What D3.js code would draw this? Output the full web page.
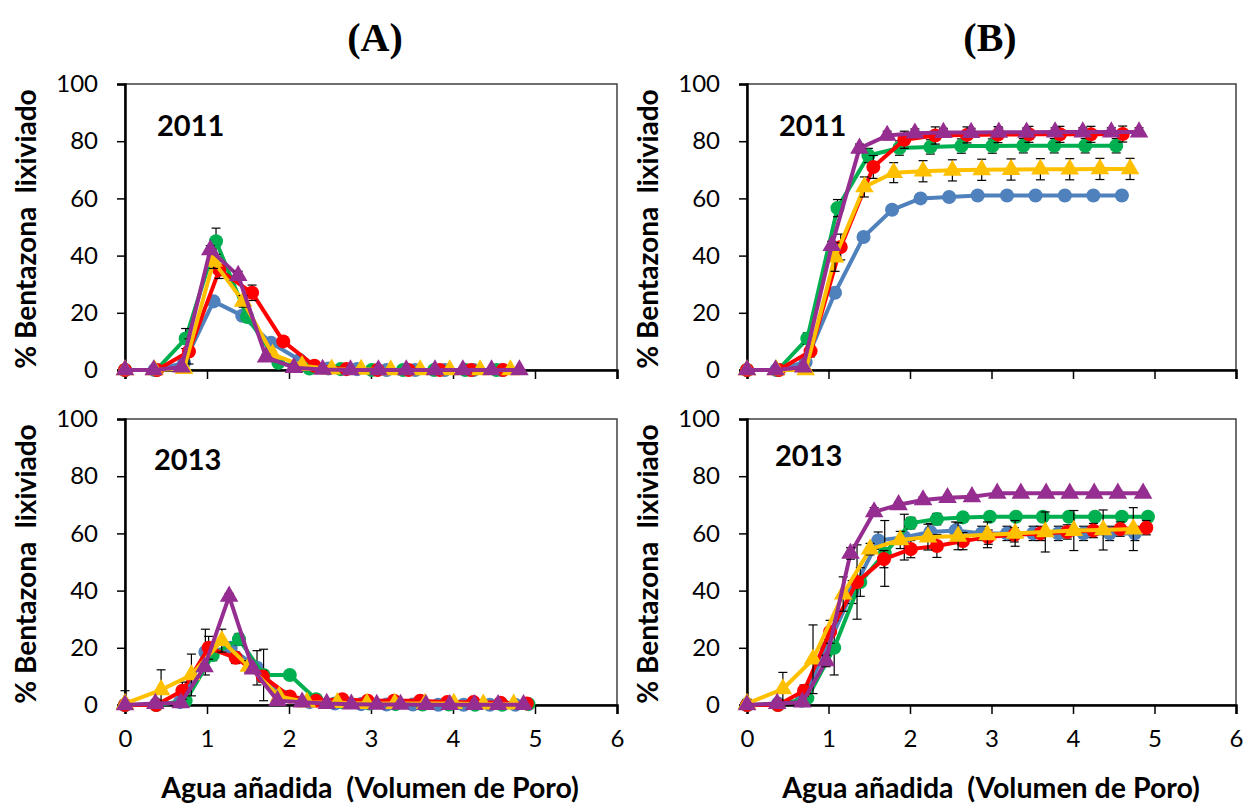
<!DOCTYPE html>
<html>
<head>
<meta charset="utf-8">
<script src="https://cdnjs.cloudflare.com/ajax/libs/d3/7.8.5/d3.min.js"></script>
<style>
    body { margin: 0; background: #fff; }
</style>
</head>
<body>
<div id="graphContainer"></div>
<script>
// axis ticks and labels
var xTicks = [0, 1, 2, 3, 4, 5, 6];
var yTicks = [0, 20, 40, 60, 80, 100];
var years = ["2011", "2013"];
var panelTitles = ["(A)", "(B)"];
var xTitle = "Agua añadida  (Volumen de Poro)";
var yTitle = "% Bentazona  lixiviado";

// series order in every list below: blue, red, green, yellow, purple
var seriesKeys = ["blue", "red", "green", "yellow", "purple"];
var seriesShapes = ["circle", "circle", "circle", "triangle", "triangle"];

// pore volumes (x) per column, 2011
var pv2011 = [
    [0, 0.36, 0.72, 1.08, 1.43, 1.78, 2.13, 2.48, 2.83, 3.19, 3.54, 3.90, 4.25, 4.60],
    [0, 0.39, 0.78, 1.15, 1.55, 1.93, 2.31, 2.70, 3.08, 3.46, 3.84, 4.22, 4.61],
    [0, 0.38, 0.74, 1.11, 1.49, 1.87, 2.25, 2.63, 3.01, 3.39, 3.77, 4.15, 4.53],
    [0, 0.36, 0.72, 1.08, 1.44, 1.80, 2.16, 2.52, 2.88, 3.24, 3.60, 3.96, 4.33, 4.70],
    [0, 0.35, 0.69, 1.04, 1.38, 1.72, 2.06, 2.41, 2.75, 3.09, 3.43, 3.78, 4.12, 4.47, 4.81]
];
// (A) 2011: % leached per fraction
var frac2011 = [
    [0, 0, 2.5, 24, 19, 9.5, 3.5, 0.5, 0.3, 0, 0, 0, 0, 0],
    [0, 0, 6.5, 35, 27, 10, 1.5, 0.3, 0, 0, 0, 0, 0],
    [0, 0, 11, 45, 18.5, 2.5, 0.5, 0.3, 0, 0, 0, 0, 0],
    [0, 0, 0.5, 38, 24, 5.5, 1.5, 0.3, 0.2, 0, 0, 0, 0, 0],
    [0, 0, 1, 42, 33, 4.5, 0.8, 0.2, 0, 0, 0, 0, 0, 0, 0]
];
var fracErr2011 = [
    [0, 0, 1, 1.5, 1.5, 1, 0.5, 0, 0, 0, 0, 0, 0, 0],
    [0, 0, 4.4, 3, 2.7, 1.5, 0.5, 0, 0, 0, 0, 0, 0],
    [0, 0, 3.5, 4.6, 1.5, 1, 0, 0, 0, 0, 0, 0, 0],
    [0, 0, 0.5, 2.5, 2, 1, 0, 0, 0, 0, 0, 0, 0, 0],
    [0, 0, 0.5, 1.5, 1.5, 1, 0, 0, 0, 0, 0, 0, 0, 0, 0]
];
// (B) 2011: cumulative % leached
var cum2011 = [
    [0, 0, 2.8, 27, 46.5, 56, 60, 60.5, 61, 61, 61, 61, 61, 61],
    [0, 0, 6.6, 43, 71, 80.5, 82, 82.2, 82.3, 82.4, 82.4, 82.4, 82.5],
    [0, 0, 11, 56.6, 75, 77.6, 78, 78.3, 78.3, 78.4, 78.4, 78.4, 78.4],
    [0, 0, 0, 39.5, 64, 69, 69.5, 69.8, 70, 70.1, 70.2, 70.2, 70.3, 70.3],
    [0, 0, 1, 43.5, 77.5, 82, 82.8, 83, 83, 83.1, 83.1, 83.2, 83.2, 83.2, 83.2]
];
var cumErr2011 = [
    [0, 0, 0.5, 1, 1, 1, 1, 1, 1, 1, 1, 1, 1, 1],
    [0, 0, 2, 4.5, 4, 3, 3, 2.8, 2.8, 2.8, 2.8, 2.8, 2.8],
    [0, 0, 2, 3, 2.5, 2.5, 2.5, 2.5, 2.5, 2.5, 2.5, 2.5, 2.5],
    [0, 0, 0, 5, 3.5, 3.5, 3.7, 3.7, 3.7, 3.7, 3.7, 3.7, 3.7, 3.7],
    [0, 0, 0.5, 1.5, 1.5, 1.5, 1.5, 1.5, 1.5, 1.5, 1.5, 1.5, 1.5, 1.5, 1.5]
];

// pore volumes (x) per column, 2013
var pv2013 = [
    [0, 0.38, 0.67, 0.98, 1.29, 1.61, 1.93, 2.25, 2.56, 2.88, 3.19, 3.51, 3.82, 4.13, 4.45, 4.76],
    [0, 0.38, 0.70, 1.02, 1.35, 1.68, 2.01, 2.33, 2.65, 2.96, 3.28, 3.60, 3.93, 4.25, 4.58, 4.90],
    [0, 0.38, 0.74, 1.07, 1.39, 1.69, 2.01, 2.33, 2.65, 2.98, 3.30, 3.63, 3.95, 4.27, 4.60, 4.92],
    [0, 0.44, 0.81, 1.18, 1.51, 1.88, 2.22, 2.59, 2.95, 3.29, 3.66, 4.01, 4.37, 4.74],
    [0, 0.37, 0.68, 0.97, 1.27, 1.56, 1.86, 2.16, 2.46, 2.76, 3.07, 3.36, 3.67, 3.96, 4.26, 4.55, 4.86]
];
var frac2013 = [
    [0, 0.3, 1, 18.5, 20, 13, 3, 1, 0.5, 0.3, 0.2, 0.2, 0.1, 0.1, 0.1, 0.1],
    [0, 0, 5, 20, 16.5, 10, 3, 1.5, 2, 1.5, 1.5, 1.5, 1, 1, 0.8, 0.5],
    [0, 0, 1.5, 17.5, 23, 10.5, 10.5, 2, 1, 0.5, 0.3, 0.2, 0.2, 0.1, 0.1, 0.3],
    [0.5, 5.3, 10.5, 22.5, 13.5, 3, 1, 0.8, 0.5, 0.5, 0.5, 0.5, 0.3, 0.3],
    [0, 0.5, 0.7, 13.3, 38, 12.5, 1.5, 1, 0.5, 0.3, 0.2, 0.2, 0.1, 0.1, 0.1, 0.1, 0.1]
];
var fracErr2013 = [
    [0, 0, 0.5, 8, 2, 6, 1, 0.5, 0, 0, 0, 0, 0, 0, 0, 0],
    [0, 0, 3, 4, 2, 2, 1, 0.5, 0.5, 0, 0, 0, 0, 0, 0, 0],
    [0, 0, 0.5, 2, 2, 9, 1, 0.5, 0, 0, 0, 0, 0, 0, 0, 0],
    [4.5, 7, 7.3, 4, 2, 1, 0.5, 0, 0, 0, 0, 0, 0, 0],
    [0, 0, 0, 1, 1, 1, 0.5, 0, 0, 0, 0, 0, 0, 0, 0, 0, 0]
];
var cum2013 = [
    [0, 0.5, 1.5, 20, 39.5, 57.5, 58.7, 60.5, 61, 60, 60, 60, 60, 60, 60, 60],
    [0, 0, 5, 25.6, 43, 51, 54.5, 55.6, 57.3, 58.7, 59.5, 60, 60.5, 61, 61.5, 62],
    [0, 0, 2.4, 20, 43, 53, 63.6, 65, 65.6, 65.8, 65.8, 65.8, 65.8, 65.8, 65.8, 65.8],
    [0.5, 5.6, 16, 38.8, 54.5, 57.7, 58.7, 59, 59.5, 60, 60.5, 61, 61.2, 61.5],
    [0, 0.5, 1, 15.4, 53, 67.5, 70, 71.7, 72.5, 72.8, 74, 74, 74, 74, 74, 74, 74]
];
var cumErr2013 = [
    [0, 0, 1, 3, 4, 3, 8, 3, 3, 2.5, 2.5, 2.5, 2.5, 2.5, 2.5, 2.5],
    [0, 0, 2, 4, 13, 3, 3, 4, 3, 2.5, 2.5, 2.5, 2.5, 2.5, 2.5, 2.5],
    [0, 0, 1, 9.5, 5, 11.5, 2, 2, 1.5, 1.5, 1.5, 1.5, 1.5, 1.5, 1.5, 1.5],
    [1.5, 5.8, 12, 6, 2, 3, 4.5, 4.7, 4.5, 4.5, 7, 7, 7, 7.5],
    [0, 0, 0.5, 2, 2, 1.5, 1, 1, 1, 1, 1, 1, 1, 1, 1, 1, 1]
];

// styles
var colors = {blue: "#4F81BD", red: "#FF0000", green: "#00B050", yellow: "#FFC000", purple: "#962D91"};
var drawOrder = [0, 2, 1, 3, 4];
var sansFont = "Lato, 'Open Sans', sans-serif";
var serifFont = "'Liberation Serif', 'Times New Roman', serif";

var width = 1245, height = 803;
var svg = d3.select("#graphContainer").append("svg")
    .attr("width", width)
    .attr("height", height);

// pixel frames of the four panels
var cols = [{left: 125, right: 617}, {left: 747, right: 1236}];
var rows = [{top: 84, bottom: 370}, {top: 419, bottom: 705}];

var panels = [
    {col: 0, row: 0, pv: pv2011, y: frac2011, err: fracErr2011, year: years[0], yearPos: [157, 136]},
    {col: 1, row: 0, pv: pv2011, y: cum2011, err: cumErr2011, year: years[0], yearPos: [779, 136]},
    {col: 0, row: 1, pv: pv2013, y: frac2013, err: fracErr2013, year: years[1], yearPos: [154, 470]},
    {col: 1, row: 1, pv: pv2013, y: cum2013, err: cumErr2013, year: years[1], yearPos: [775, 466]}
];

panels.forEach(drawPanel);

function drawPanel(p) {
    var c = cols[p.col], r = rows[p.row];
    var x = d3.scaleLinear().domain([0, 6]).range([c.left, c.right]);
    var y = d3.scaleLinear().domain([0, 100]).range([r.bottom, r.top]);
    var g = svg.append("g");

    //plot area border
    g.append("rect")
        .attr("x", c.left).attr("y", r.top)
        .attr("width", c.right - c.left).attr("height", r.bottom - r.top)
        .attr("fill", "none").attr("stroke", "#404040").attr("stroke-width", 1.5);

    //axes
    var yAxis = d3.axisLeft(y).tickValues(yTicks).tickSize(8).tickPadding(19);
    var yg = g.append("g").attr("transform", "translate(" + c.left + ",0)").call(yAxis);
    var xAxis = d3.axisBottom(x).tickValues(xTicks).tickSize(9).tickPadding(16).tickFormat(d3.format("d"));
    if (p.row === 0) xAxis.tickFormat("");
    var xg = g.append("g").attr("transform", "translate(0," + r.bottom + ")").call(xAxis);

    [xg, yg].forEach(function (a) {
        a.select(".domain").attr("stroke", "#000").attr("stroke-width", 2.5);
        a.selectAll(".tick line").attr("stroke", "#000").attr("stroke-width", 1.5);
        a.selectAll(".tick text").attr("fill", "#000")
            .style("font-family", sansFont).style("font-size", "24px");
    });
    xg.selectAll(".tick text").attr("dy", "0.71em");

    //lines, error bars, markers
    var line = d3.line()
        .x(function (d) { return x(d.x); })
        .y(function (d) { return y(d.y); });

    drawOrder.forEach(function (s) {
        var pts = p.pv[s].map(function (v, i) {
            return {x: v, y: p.y[s][i], e: p.err[s][i]};
        });
        var col = colors[seriesKeys[s]];

        g.append("path")
            .datum(pts)
            .attr("d", line)
            .attr("fill", "none")
            .attr("stroke", col)
            .attr("stroke-width", 4)
            .attr("stroke-linejoin", "round");

        var eb = g.selectAll(null)
            .data(pts.filter(function (d) { return d.e > 0; }))
            .enter().append("g")
            .attr("stroke", "#000").attr("stroke-width", 1.2);
        eb.append("line")
            .attr("x1", function (d) { return x(d.x); })
            .attr("x2", function (d) { return x(d.x); })
            .attr("y1", function (d) { return y(Math.min(100, d.y + d.e)); })
            .attr("y2", function (d) { return y(Math.max(0, d.y - d.e)); });
        eb.append("line")
            .attr("x1", function (d) { return x(d.x) - 4.5; })
            .attr("x2", function (d) { return x(d.x) + 4.5; })
            .attr("y1", function (d) { return y(d.y + d.e); })
            .attr("y2", function (d) { return y(d.y + d.e); });
        eb.filter(function (d) { return d.y - d.e >= 0; }).append("line")
            .attr("x1", function (d) { return x(d.x) - 4.5; })
            .attr("x2", function (d) { return x(d.x) + 4.5; })
            .attr("y1", function (d) { return y(d.y - d.e); })
            .attr("y2", function (d) { return y(d.y - d.e); });

        var sym = seriesShapes[s] === "circle"
            ? d3.symbol().type(d3.symbolCircle).size(155)
            : d3.symbol().type(d3.symbolTriangle).size(150);

        g.selectAll(null)
            .data(pts)
            .enter().append("path")
            .attr("d", sym)
            .attr("transform", function (d) {
                return "translate(" + x(d.x) + "," + y(d.y) + ")";
            })
            .attr("fill", col);
    });

    //year label
    g.append("text")
        .attr("x", p.yearPos[0]).attr("y", p.yearPos[1])
        .style("font-family", sansFont).style("font-size", "29px").style("font-weight", "bold")
        .text(p.year);

    //y title
    g.append("text")
        .attr("transform", "translate(" + (c.left - 99) + "," + ((r.top + r.bottom) / 2 + 2) + ") rotate(-90)")
        .attr("text-anchor", "middle")
        .attr("dy", "0.35em")
        .style("font-family", sansFont).style("font-size", "28px").style("font-weight", "bold")
        .style("white-space", "pre")
        .text(yTitle);
}

//panel titles and x titles
cols.forEach(function (c, i) {
    svg.append("text")
        .attr("x", i === 0 ? 375 : 990).attr("y", 51)
        .attr("text-anchor", "middle")
        .style("font-family", serifFont).style("font-size", "40px").style("font-weight", "bold")
        .text(panelTitles[i]);
    svg.append("text")
        .attr("x", i === 0 ? 370 : 991).attr("y", 798)
        .attr("text-anchor", "middle")
        .style("font-family", sansFont).style("font-size", "28.5px").style("font-weight", "bold")
        .style("white-space", "pre")
        .text(xTitle);
});
</script>
</body>
</html>
